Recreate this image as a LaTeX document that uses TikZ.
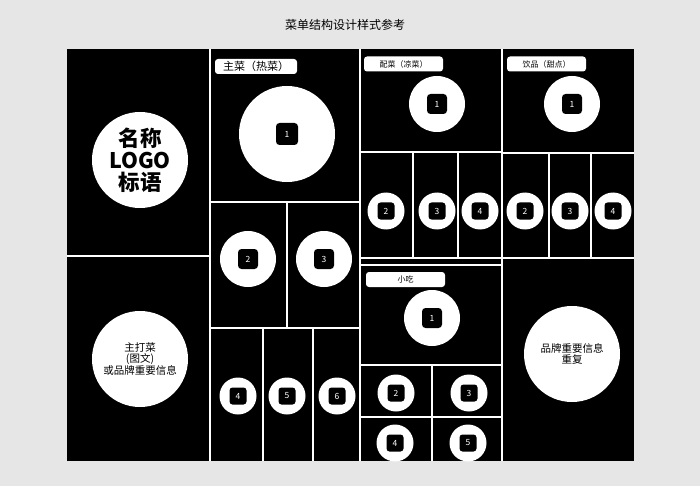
\documentclass[tikz,border=0pt]{standalone}
\usepackage{fontspec}
\setmainfont{Noto Sans CJK SC}
\begin{document}
\begin{tikzpicture}[x=1pt,y=-1pt,
  bigc/.style={circle, fill=white, minimum size=96pt, inner sep=0pt, align=center},
  midc/.style={circle, fill=white, minimum size=56pt, inner sep=0pt},
  smc/.style={circle, fill=white, minimum size=37pt, inner sep=0pt},
  numbox/.style={fill=black, text=white, rounded corners=3.5pt, minimum size=20pt, inner sep=0pt, font=\fontsize{8.5}{8.5}\selectfont},
  numsm/.style={numbox, minimum size=17pt, rounded corners=3pt},
  tag/.style={fill=white, rounded corners=3pt, minimum height=15pt, inner sep=0pt},
  wline/.style={white, line width=1.6pt}
]
\useasboundingbox (0,0) rectangle (700,486);
\fill[color={rgb,255:red,230;green,230;blue,230}] (0,0) rectangle (700,486);
\node (title) at (345,25) {\fontsize{12}{12}\selectfont 菜单结构设计样式参考};
\fill[black] (67,49) rectangle (634,461);
\begin{scope}
\clip (67,49) rectangle (634,461);
% grid lines
\draw[wline] (210,49)--(210,461);
\draw[wline] (360,49)--(360,461);
\draw[wline] (502,49)--(502,461);
\draw[wline] (67,256)--(210,256);
\draw[wline] (210,202)--(360,202);
\draw[wline] (287,202)--(287,328);
\draw[wline] (210,328)--(360,328);
\draw[wline] (263,328)--(263,461);
\draw[wline] (313,328)--(313,461);
\draw[wline] (360,152)--(502,152);
\draw[wline] (413,152)--(413,258);
\draw[wline] (458,152)--(458,258);
\draw[wline] (360,258)--(502,258);
\draw[wline] (360,265)--(502,265);
\draw[wline] (360,365)--(502,365);
\draw[wline] (432,365)--(432,461);
\draw[wline] (360,417)--(502,417);
\draw[wline] (502,153)--(634,153);
\draw[wline] (549,153)--(549,258);
\draw[wline] (591,153)--(591,258);
\draw[wline] (502,258)--(634,258);
% left column
\node[bigc, font=\bfseries\fontsize{21.5}{24}\selectfont] (name) at (140,160) {名称\\[-2pt]LOGO\\[-2pt]标语};
\node[bigc, font=\fontsize{10.5}{11.5}\selectfont] (hero) at (140,359) {主打菜\\(图文)\\或品牌重要信息};
% main dishes
\node[tag, minimum width=82pt, font=\fontsize{11}{11}\selectfont] (tmain) at (256,66.5) {主菜（热菜）};
\node[bigc] (m1) at (287,134) {};
\node[numbox, minimum size=22pt] at (m1) {1};
\node[midc] (m2) at (248,259) {};
\node[numbox] at (m2) {2};
\node[midc] (m3) at (324,259) {};
\node[numbox] at (m3) {3};
\node[smc] (m4) at (238,396) {};
\node[numsm] at (m4) {4};
\node[smc] (m5) at (287,396) {};
\node[numsm] at (m5) {5};
\node[smc] (m6) at (337,396) {};
\node[numsm] at (m6) {6};
% side dishes
\node[tag, minimum width=79pt, font=\fontsize{8}{8}\selectfont] (tside) at (403.5,64) {配菜（凉菜）};
\node[midc] (s1) at (437,104) {};
\node[numbox] at (s1) {1};
\node[smc] (s2) at (386,211) {};
\node[numsm] at (s2) {2};
\node[smc] (s3) at (437,211) {};
\node[numsm] at (s3) {3};
\node[smc] (s4) at (480,211) {};
\node[numsm] at (s4) {4};
% drinks
\node[tag, minimum width=79pt, font=\fontsize{8}{8}\selectfont] (tdrink) at (546.5,64) {饮品（甜点）};
\node[midc] (d1) at (572,104) {};
\node[numbox] at (d1) {1};
\node[smc] (d2) at (525,211) {};
\node[numsm] at (d2) {2};
\node[smc] (d3) at (570,211) {};
\node[numsm] at (d3) {3};
\node[smc] (d4) at (613,211) {};
\node[numsm] at (d4) {4};
% snacks
\node[tag, minimum width=79pt, font=\fontsize{8}{8}\selectfont] (tsnack) at (405.5,279.5) {小吃};
\node[midc] (k1) at (432,318) {};
\node[numbox] at (k1) {1};
\node[smc] (k2) at (396,393) {};
\node[numsm] at (k2) {2};
\node[smc] (k3) at (469,393) {};
\node[numsm] at (k3) {3};
\node[smc] (k4) at (395,443) {};
\node[numsm] at (k4) {4};
\node[smc] (k5) at (468,443) {};
\node[numsm] at (k5) {5};
% brand repeat
\node[bigc, font=\fontsize{10.5}{11.5}\selectfont] (brand) at (572,354) {品牌重要信息\\重复};
\end{scope}
\end{tikzpicture}
\end{document}
